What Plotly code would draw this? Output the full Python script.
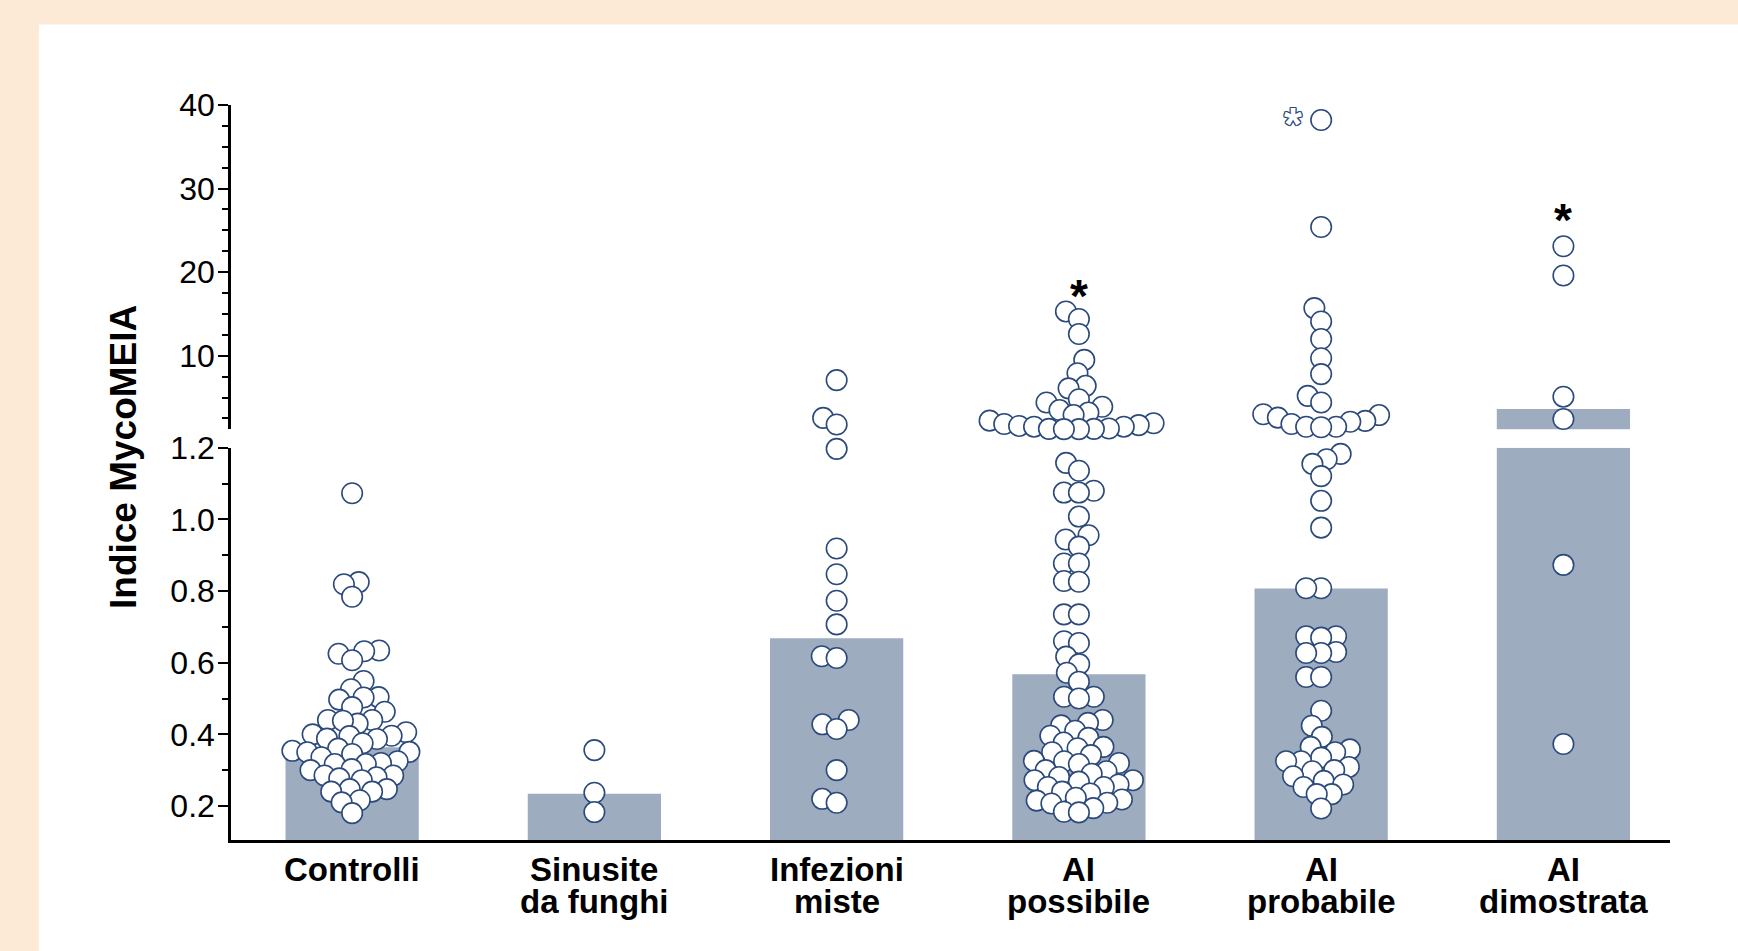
import numpy as np
import plotly.graph_objects as go

# ---- data -------------------------------------------------------------
label_line1 = ["Controlli", "Sinusite", "Infezioni", "AI", "AI", "AI"]
label_line2 = ["", "da funghi", "miste", "possibile", "probabile", "dimostrata"]

bar_values = [0.364, 0.234, 0.668, 0.568, 0.807, 3.63]

controlli = [1.073, 0.825, 0.819, 0.784, 0.634, 0.632, 0.625, 0.607, 0.549, 0.526,
             0.504, 0.503, 0.497, 0.476, 0.463, 0.44, 0.43, 0.44, 0.438, 0.406,
             0.40, 0.396, 0.395, 0.388, 0.387, 0.375, 0.36, 0.354, 0.351, 0.35,
             0.345, 0.336, 0.325, 0.32, 0.317, 0.317, 0.30, 0.303, 0.285, 0.285,
             0.28, 0.277, 0.272, 0.247, 0.247, 0.24, 0.24, 0.216, 0.21, 0.18]
sinusite = [0.356, 0.237, 0.183]
infezioni = [7.08, 2.56, 1.77, 1.197, 0.919, 0.847, 0.773, 0.707, 0.618, 0.613,
             0.44, 0.428, 0.415, 0.30, 0.22, 0.209]
ai_possibile = [15.3, 14.4, 12.6, 9.5, 7.9, 6.4, 6.1, 4.8, 4.4, 3.9, 3.5, 3.2, 2.9,
                2.23, 1.92, 1.83, 1.7, 1.6, 1.51, 1.51, 1.3, 1.25, 1.25, 1.22, 1.22,
                1.158, 1.136, 1.08, 1.075, 1.075, 1.008, 0.956, 0.944, 0.924, 0.877,
                0.877, 0.828, 0.826, 0.735, 0.735, 0.66, 0.655, 0.617, 0.596, 0.572,
                0.547, 0.505, 0.505, 0.50, 0.44, 0.432, 0.425, 0.41, 0.396, 0.39,
                0.377, 0.365, 0.361, 0.35, 0.342, 0.326, 0.325, 0.32, 0.317, 0.30,
                0.297, 0.29, 0.281, 0.272, 0.272, 0.268, 0.26, 0.253, 0.253, 0.24,
                0.235, 0.223, 0.218, 0.215, 0.209, 0.207, 0.194, 0.184, 0.182]
ai_probabile = [38.2, 25.4, 15.7, 14.1, 12.0, 9.7, 7.8, 5.2, 4.4, 3.0, 2.9, 2.6, 2.2,
                2.1, 1.83, 1.5, 1.5, 1.44,
                1.183, 1.168, 1.155, 1.121, 1.052, 0.977, 0.808, 0.808, 0.674, 0.674,
                0.67, 0.63, 0.627, 0.627, 0.56, 0.56, 0.466, 0.424, 0.393, 0.365,
                0.358, 0.35, 0.335, 0.325, 0.325, 0.309, 0.30, 0.297, 0.283, 0.27,
                0.26, 0.253, 0.233, 0.233, 0.193]
ai_dimostrata = [23.1, 19.6, 5.1, 2.43, 0.873, 0.373]

groups = [controlli, sinusite, infezioni, ai_possibile, ai_probabile, ai_dimostrata]

# significance marks: (category index, value, outlined?)
star_cat = [3, 5, 4]
star_val = [17.9, 27.0, 38.4]
star_open = [False, False, True]

# ---- layout geometry ---------------------------------------------------
W, H = 1738, 951
ML, MR, MT, MB = 231, 68, 105, 111
PW, PH = W - ML - MR, H - MT - MB
X_RANGE = [-0.5, 5.44]
BREAK = 1.2
LO_RANGE = [0.105, BREAK]
UP_RANGE = [BREAK, 40]
LO_DOM = [0.0, 0.5336]
UP_DOM = [0.5588, 1.0]

BAR_COLOR = "#9EACC0"
DOT_LINE = "#2B4A7B"
PEACH = "#FCE9D6"
FONT = "Liberation Sans"

px_per_cat = PW / (X_RANGE[1] - X_RANGE[0])


def value_to_px(v):
    """Vertical pixel position of a value on the broken axis."""
    if v <= BREAK:
        frac = LO_DOM[0] + (v - LO_RANGE[0]) / (LO_RANGE[1] - LO_RANGE[0]) * (LO_DOM[1] - LO_DOM[0])
    else:
        frac = UP_DOM[0] + (v - UP_RANGE[0]) / (UP_RANGE[1] - UP_RANGE[0]) * (UP_DOM[1] - UP_DOM[0])
    return MT + PH * (1 - frac)


def swarm_offsets(values, spacing):
    """Beeswarm: horizontal pixel offsets so that dots don't pile up."""
    ys = np.array([value_to_px(v) for v in values])
    order = np.argsort(-ys)
    placed_x, placed_y = [], []
    offsets = np.zeros(len(values))
    for i in order:
        y = ys[i]
        intervals = []
        for px, py in zip(placed_x, placed_y):
            dy = abs(py - y)
            if dy < spacing:
                half = np.sqrt(spacing ** 2 - dy ** 2)
                intervals.append((px - half, px + half))
        cands = [0.0] + [e for iv in intervals for e in iv]
        cands.sort(key=lambda c: (abs(c), c))
        for c in cands:
            if all(not (a + 1e-6 < c < b - 1e-6) for a, b in intervals):
                offsets[i] = c
                break
        placed_x.append(offsets[i])
        placed_y.append(y)
    return offsets


fig = go.Figure()

cats = list(range(len(groups)))

# bars: lower segment and the part above the break
fig.add_trace(go.Bar(x=cats, y=[min(v, BREAK) for v in bar_values], width=0.55,
                     marker=dict(color=BAR_COLOR, line=dict(width=0)),
                     xaxis="x", yaxis="y", hoverinfo="skip", showlegend=False))
fig.add_trace(go.Bar(x=cats, y=bar_values, width=0.55,
                     marker=dict(color=BAR_COLOR, line=dict(width=0)),
                     xaxis="x", yaxis="y2", hoverinfo="skip", showlegend=False))

lo_x, lo_y, up_x, up_y = [], [], [], []
for ci, vals in enumerate(groups):
    offs = swarm_offsets(vals, 15.0) / px_per_cat
    for v, o in zip(vals, offs):
        if v <= BREAK:
            lo_x.append(ci + o)
            lo_y.append(v)
        else:
            up_x.append(ci + o)
            up_y.append(v)

dot = dict(symbol="circle", size=20.5, color="white", line=dict(color=DOT_LINE, width=1.6))
fig.add_trace(go.Scatter(x=lo_x, y=lo_y, mode="markers", marker=dot, cliponaxis=False,
                         xaxis="x", yaxis="y", showlegend=False))
fig.add_trace(go.Scatter(x=up_x, y=up_y, mode="markers", marker=dot, cliponaxis=False,
                         xaxis="x", yaxis="y2", showlegend=False))

annotations = []
# category labels
LABEL_FONT = dict(family=FONT, size=33, color="black", weight="bold")
for ci in cats:
    annotations.append(dict(x=ci, xref="x", y=(MT + PH - 869) / PH, yref="paper",
                            text=label_line1[ci], showarrow=False, yanchor="middle",
                            font=LABEL_FONT))
    if label_line2[ci]:
        annotations.append(dict(x=ci, xref="x", y=(MT + PH - 901) / PH, yref="paper",
                                text=label_line2[ci], showarrow=False, yanchor="middle",
                                font=LABEL_FONT))

# axis title
annotations.append(dict(x=(123 - ML) / PW, xref="paper", y=(MT + PH - 457) / PH, yref="paper",
                        text="Indice MycoMEIA", textangle=-90, showarrow=False,
                        xanchor="center", yanchor="middle",
                        font=dict(family=FONT, size=37, color="black", weight="bold")))

outline = ", ".join(f"{dx}px {dy}px 0 {DOT_LINE}" for dx, dy in
                    [(1, 0), (-1, 0), (0, 1), (0, -1), (1, 1), (-1, -1), (1, -1), (-1, 1)])
for ci, v, hollow in zip(star_cat, star_val, star_open):
    if hollow:
        annotations.append(dict(x=ci, xref="x", y=v, yref="y2", text="*", showarrow=False,
                                xshift=-28, yshift=-6,
                                font=dict(family=FONT, size=46, color="white", weight="bold",
                                          shadow=outline)))
    else:
        annotations.append(dict(x=ci, xref="x", y=v, yref="y2", text="*", showarrow=False,
                                yshift=-6,
                                font=dict(family=FONT, size=46, color="black", weight="bold")))

# white panel over the peach page
shapes = [dict(type="rect", xref="paper", yref="paper", layer="below",
               x0=(38.8 - ML) / PW, x1=(W + 5 - ML) / PW,
               y0=(MT + PH - H - 5) / PH, y1=(MT + PH - 24.4) / PH,
               fillcolor="white", line=dict(width=0))]

axis_common = dict(showgrid=False, zeroline=False, showline=True, linecolor="black",
                   linewidth=2.5, ticks="outside", ticklen=10, tickwidth=2, tickcolor="black",
                   ticklabelstandoff=-3,
                   tickfont=dict(family=FONT, size=32, color="black"))

fig.update_layout(
    width=W, height=H,
    margin=dict(l=ML, r=MR, t=MT, b=MB, pad=0),
    paper_bgcolor=PEACH, plot_bgcolor="white",
    barmode="overlay", showlegend=False,
    xaxis=dict(range=X_RANGE, domain=[0, 1], anchor="y", showgrid=False, zeroline=False,
               showline=True, linecolor="black", linewidth=2.5, ticks="",
               showticklabels=False, fixedrange=True),
    yaxis=dict(range=LO_RANGE, domain=LO_DOM, anchor="x",
               tickmode="array", tickvals=[0.2, 0.4, 0.6, 0.8, 1.0, 1.2],
               ticktext=["0.2", "0.4", "0.6", "0.8", "1.0", "1.2"],
               minor=dict(tickmode="array", tickvals=[0.3, 0.5, 0.7, 0.9, 1.1],
                          ticks="outside", ticklen=6, tickwidth=2, tickcolor="black"),
               **axis_common),
    yaxis2=dict(range=UP_RANGE, domain=UP_DOM, anchor="x",
                tickmode="array", tickvals=[10, 20, 30, 40],
                minor=dict(tickmode="array",
                           tickvals=[2.5, 5, 7.5, 12.5, 15, 17.5, 22.5, 25, 27.5, 32.5, 35, 37.5],
                           ticks="outside", ticklen=6, tickwidth=2, tickcolor="black"),
                **axis_common),
    annotations=annotations,
    shapes=shapes,
)

fig.write_html("out.html")
